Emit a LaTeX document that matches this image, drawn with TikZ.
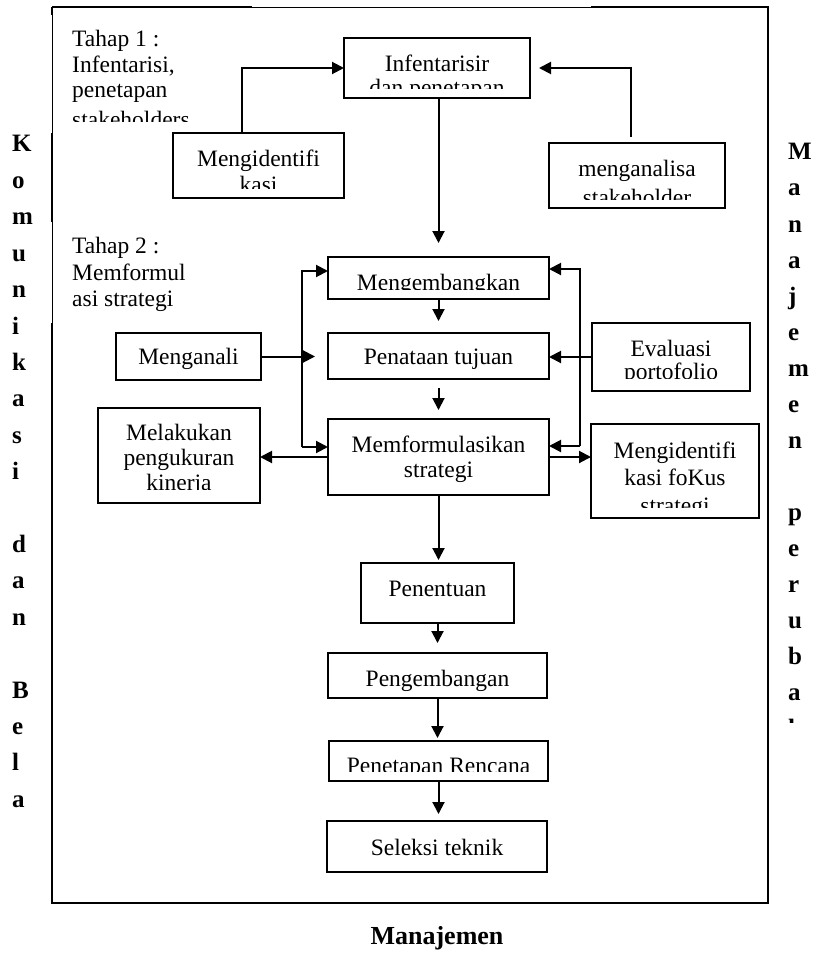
\documentclass[tikz,border=0pt]{standalone}
\usepackage{fontspec}
\setmainfont{Liberation Serif}
\usetikzlibrary{arrows.meta}
\begin{document}
\begin{tikzpicture}[x=1pt,y=-1pt,
 box/.style={draw, line width=1.6pt, inner sep=0pt, outer sep=0pt},
 txt/.style={inner sep=0pt, anchor=base, font=\fontsize{23.5}{24.5}\selectfont},
 ltxt/.style={txt, anchor=base west},
 side/.style={inner sep=0pt, anchor=base west, font=\fontsize{25}{25}\selectfont\bfseries},
 arr/.style={line width=2pt, -{Triangle[length=12pt,width=12pt]}},
 fthick/.style={line width=2pt},
 fthin/.style={line width=0.8pt}]
\useasboundingbox (0,0) rectangle (822,960);

% outer frame
\draw[fthick] (52,7) -- (252,7);
\draw[fthin] (252,7) -- (591,7);
\draw[fthick] (591,7) -- (768,7) -- (768,903) -- (52,903) -- (52,323);
\draw[fthin] (52,323) -- (52,222);
\draw[fthick] (52,222) -- (52,133);
\draw[fthin] (52,133) -- (52,15);
\draw[fthick] (52,15) -- (52,7);

% stage labels
\begin{scope}
\clip (60,10) rectangle (252,122);
\node[ltxt] (t1a) at (72,47) {Tahap 1 :};
\node[ltxt] (t1b) at (72,72.5) {Infentarisi,};
\node[ltxt] (t1c) at (72,98) {penetapan};
\node[ltxt] (t1d) at (72,128) {stakeholders};
\end{scope}
\node[ltxt] (t2a) at (72,253) {Tahap 2 :};
\node[ltxt] (t2b) at (72,280) {Memformul};
\node[ltxt] (t2c) at (72,306) {asi strategi};

% boxes
\node[box, minimum width=186pt, minimum height=60pt] (inf) at (437,68) {};
\node[box, minimum width=171pt, minimum height=65pt] (mid1) at (258.5,165.5) {};
\node[box, minimum width=176pt, minimum height=65pt] (man) at (637,175.5) {};
\node[box, minimum width=221pt, minimum height=42pt] (meng) at (438.5,278) {};
\node[box, minimum width=221pt, minimum height=46pt] (pen) at (438.5,356) {};
\node[box, minimum width=221pt, minimum height=76pt] (mf) at (438.5,457) {};
\node[box, minimum width=145pt, minimum height=47pt] (ang) at (188.5,356.5) {};
\node[box, minimum width=162pt, minimum height=95pt] (mel) at (179,455.5) {};
\node[box, minimum width=158pt, minimum height=68pt] (eva) at (671,357) {};
\node[box, minimum width=168pt, minimum height=94pt] (mid2) at (675,471) {};
\node[box, minimum width=153pt, minimum height=60pt] (pnt) at (437.5,593) {};
\node[box, minimum width=219pt, minimum height=45pt] (pgb) at (437.5,675.5) {};
\node[box, minimum width=219pt, minimum height=40pt] (prc) at (438.5,761) {};
\node[box, minimum width=220pt, minimum height=51pt] (sel) at (437,846.5) {};

% box texts
\begin{scope}
\clip (345,39) rectangle (529,88.5);
\node[txt] (inf1) at (437,72) {Infentarisir};
\node[txt] (inf2) at (437,96) {dan penetapan};
\end{scope}
\begin{scope}
\clip (174,134) rectangle (343,188);
\node[txt] (mid1a) at (258.5,167) {Mengidentifi};
\node[txt] (mid1b) at (258.5,193) {kasi};
\end{scope}
\begin{scope}
\clip (550,144) rectangle (724,199);
\node[txt] (man1) at (637,177) {menganalisa};
\node[txt] (man2) at (637,205) {stakeholder};
\end{scope}
\begin{scope}
\clip (329,258) rectangle (548,289);
\node[txt] (meng1) at (438.5,290) {Mengembangkan};
\end{scope}
\node[txt] (pen1) at (438.5,364) {Penataan tujuan};
\node[txt] (mf1) at (438.5,452) {Memformulasikan};
\node[txt] (mf2) at (438.5,477) {strategi};
\node[txt] (ang1) at (188.5,364) {Menganali};
\begin{scope}
\clip (99,409) rectangle (259,489.5);
\node[txt] (mel1) at (179,440) {Melakukan};
\node[txt] (mel2) at (179,465) {pengukuran};
\node[txt] (mel3) at (179,490) {kinerja};
\end{scope}
\begin{scope}
\clip (593,324) rectangle (749,378.5);
\node[txt] (eva1) at (671,356) {Evaluasi};
\node[txt] (eva2) at (671,379) {portofolio};
\end{scope}
\begin{scope}
\clip (592,425) rectangle (758,507);
\node[txt] (mid2a) at (675,458) {Mengidentifi};
\node[txt] (mid2b) at (675,485) {kasi foKus};
\node[txt] (mid2c) at (675,513) {strategi};
\end{scope}
\node[txt] (pnt1) at (437.5,596) {Penentuan};
\node[txt] (pgb1) at (437.5,686) {Pengembangan};
\begin{scope}
\clip (330,742) rectangle (547,771.5);
\node[txt] (prc1) at (438.5,773) {Penetapan Rencana};
\end{scope}
\node[txt] (sel1) at (437,855) {Seleksi teknik};

% connectors (stage 1)
\draw[arr] ([xshift=-16.5pt]mid1.north) |- (inf.west);
\draw[arr, shorten <=6pt, shorten >=9pt] ([xshift=-6pt]man.north) |- (inf.east);
\draw[arr, shorten >=14pt] (inf.south -| meng.north) -- (meng.north);

% main chain
\draw[arr, shorten >=12pt] (meng.south) -- (pen.north);
\draw[arr, shorten <=9pt, shorten >=9pt] (pen.south) -- (mf.north);
\draw[arr, shorten >=3pt] (mf.south) -- (mf.south |- pnt.north);
\draw[arr, shorten >=10pt] (pnt.south) -- (pgb.north);
\draw[arr, shorten >=3pt] (pgb.south) -- (pgb.south |- prc.north);
\draw[arr, shorten >=7pt] (prc.south) -- (prc.south |- sel.north);

% left loop
\coordinate (lt) at (302,271);
\coordinate (lb) at (302,447);
\draw[arr] (lb) -- (lt) -- (lt -| meng.west);
\draw[arr] (lb) -- (lb -| mf.west);
\draw[arr, shorten >=13pt] (ang.east) -- (ang.east -| pen.west);
\draw[arr] (mf.west) -- (mf.west -| mel.east);

% right loop
\coordinate (rt) at (580,269);
\coordinate (rb) at (580,446);
\draw[arr] (rb) -- (rt) -- (rt -| meng.east);
\draw[arr] (rb) -- (rb -| mf.east);
\draw[arr] (eva.west) -- (eva.west -| pen.east);
\draw[arr] (mf.east) -- (mf.east -| mid2.west);

% side labels
\foreach \ch/\k [count=\n] in {K/0,o/1,m/2,u/3,n/4,i/5,k/6,a/7,s/8,i/9,d/11,a/12,n/13,B/15,e/16,l/17,a/18}
  \node[side] (L\n) at (12,152+\k*36.4) {\ch};
\foreach \ch/\k [count=\n] in {M/0,a/1,n/2,a/3,j/4,e/5,m/6,e/7,n/8,p/10,e/11,r/12,u/13,b/14,a/15}
  \node[side] (R\n) at (788,160+\k*36) {\ch};
\begin{scope}
\clip (780,700) rectangle (822,722.5);
\node[side] (Rh) at (788,736) {h};
\end{scope}

\node[inner sep=0pt, anchor=base, font=\fontsize{26}{26}\selectfont\bfseries] (bottom) at (437,944) {Manajemen};
\end{tikzpicture}
\end{document}
